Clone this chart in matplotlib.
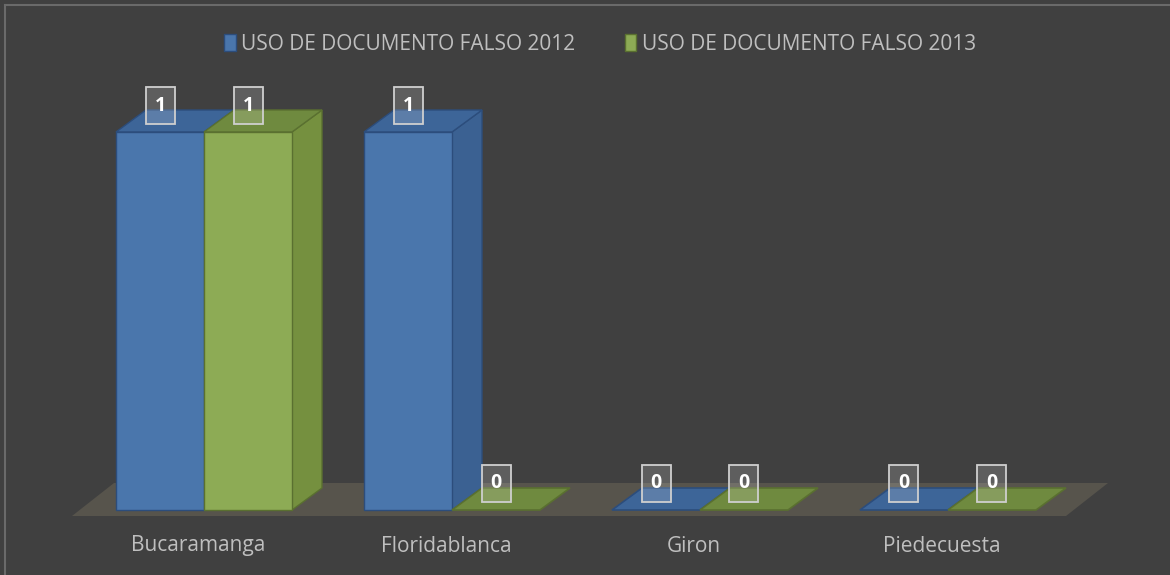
import matplotlib
matplotlib.use('Agg')
import matplotlib.pyplot as plt
import matplotlib.patches as patches
from matplotlib.lines import Line2D

# datos
municipios = ['Bucaramanga', 'Floridablanca', 'Giron', 'Piedecuesta']
serie_2012 = [1, 1, 0, 0]
serie_2013 = [1, 0, 0, 0]
nombres = ['USO DE DOCUMENTO FALSO 2012', 'USO DE DOCUMENTO FALSO 2013']

fondo = '#404040'
colores = [
    # frente, techo, lado, borde
    ('#4a76ac', '#3d6598', '#3b6192', '#2c4d7c'),
    ('#8dab55', '#6f8a3f', '#75903f', '#5a7030'),
]
fuente = 'Open Sans'

fig = plt.figure(figsize=(11.7, 5.75), dpi=100)
fig.patch.set_facecolor(fondo)
ax = fig.add_axes([0, 0, 1, 1])
ax.set_facecolor(fondo)
ax.set_axis_off()

# escala: 248 px por categoria, 378 px por unidad
px_x = 248.0
px_y = 378.0
ax.set_xlim(-204 / px_x, (1170 - 204) / px_x)
ax.set_ylim(-65 / px_y, 510 / px_y)

ancho = 88 / px_x
dx = 30 / px_x
dy = 22 / px_y

# piso
fx0, fx1 = -132 / px_x, 862 / px_x
fy = -6 / px_y
pdx, pdy = 42 / px_x, 33 / px_y
piso = patches.Polygon([(fx0, fy), (fx1, fy), (fx1 + pdx, fy + pdy), (fx0 + pdx, fy + pdy)],
                       closed=True, facecolor='#57544c', edgecolor='none', zorder=1)
ax.add_patch(piso)


def caja(x, y, ancho, alto, dx, dy, col):
    frente, techo, lado, borde = col
    if alto > 0:
        ax.add_patch(patches.Polygon([(x + ancho, y), (x + ancho + dx, y + dy),
                                      (x + ancho + dx, y + alto + dy), (x + ancho, y + alto)],
                                     facecolor=lado, edgecolor=borde, lw=1, zorder=2))
        ax.add_patch(patches.Polygon([(x, y + alto), (x + ancho, y + alto),
                                      (x + ancho + dx, y + alto + dy), (x + dx, y + alto + dy)],
                                     facecolor=techo, edgecolor=borde, lw=1, zorder=2))
        ax.add_patch(patches.Rectangle((x, y), ancho, alto, facecolor=frente,
                                       edgecolor=borde, lw=1, zorder=2))
    else:
        ax.add_patch(patches.Polygon([(x, y), (x + ancho, y), (x + ancho + dx, y + dy), (x + dx, y + dy)],
                                     facecolor=techo, edgecolor=borde, lw=1.2, zorder=2))


etiquetas = []
for i, nombre in enumerate(municipios):
    for j, serie in enumerate([serie_2012, serie_2013]):
        x = i - ancho + j * ancho
        caja(x, 0, ancho, serie[i], dx, dy, colores[j])
        etiquetas.append((x + ancho / 2, serie[i]))
    ax.text(i - 6 / px_x, -36 / px_y, nombre, ha='center', va='center',
            color='#bfbfbf', fontsize=15, family=fuente)

# etiquetas de datos
bw, bh = 29 / px_x, 37 / px_y
for (cx, v) in etiquetas:
    yb = v + 8 / px_y
    ax.add_patch(patches.Rectangle((cx - bw / 2, yb), bw, bh, facecolor='white', alpha=0.16,
                                   edgecolor='none', zorder=4))
    ax.add_patch(patches.Rectangle((cx - bw / 2, yb), bw, bh, facecolor='none',
                                   edgecolor='#cfcfcf', lw=1.3, zorder=5))
    ax.text(cx, yb + bh / 2, str(v), ha='center', va='center', color='white',
            fontsize=14, fontweight='bold', family=fuente, zorder=6)

# leyenda
handles = [patches.Patch(facecolor=c[0], edgecolor=c[3]) for c in colores]
leg = fig.legend(handles, nombres, loc='center', bbox_to_anchor=(600 / 1170, 1 - 44 / 575), ncol=2,
                 frameon=False, handlelength=0.55, handleheight=0.9, handletextpad=0.25,
                 columnspacing=2.4, prop={'family': fuente, 'size': 15})
for t in leg.get_texts():
    t.set_color('#bfbfbf')

# borde exterior
fig.add_artist(Line2D([4.5 / 1170, 4.5 / 1170], [0, 1 - 5 / 575], color='#6a6a6a', lw=1.5))
fig.add_artist(Line2D([4.5 / 1170, 1], [1 - 5 / 575, 1 - 5 / 575], color='#6a6a6a', lw=1.5))

fig.savefig('out.png', dpi=100, facecolor=fondo)
